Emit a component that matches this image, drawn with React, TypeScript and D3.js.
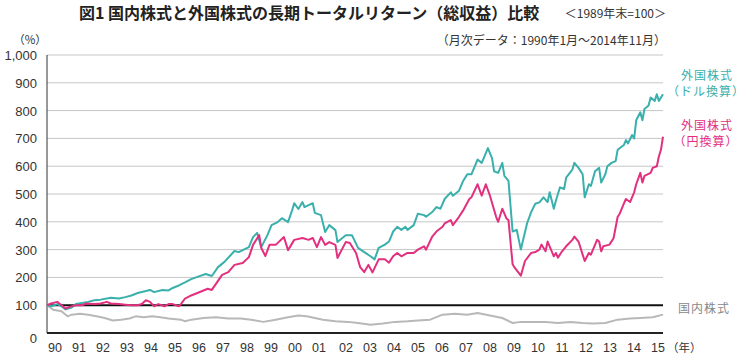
import React from "react";
import * as d3 from "d3";

// month index: 0 = end of 1989, 299 = Nov 2014
const usdForeign: [number, number][] = [
  [0,100],[2,96],[5,104],[7,96],[9,85],[12,92],[14,104],[17,108],[20,112],[23,118],[26,120],[31,127],[35,124],[38,129],[41,135],[44,144],[48,151],[50,155],[52,147],[56,155],[59,153],[61,162],[64,171],[67,182],[70,194],[73,202],[77,212],[80,205],[83,237],[86,255],[91,295],[93,291],[95,298],[98,309],[100,345],[102,360],[104,309],[107,352],[109,388],[112,399],[114,413],[117,399],[119,442],[120,467],[122,446],[124,471],[125,453],[129,467],[130,432],[133,424],[135,363],[137,388],[140,370],[141,327],[145,352],[148,352],[151,306],[154,291],[157,276],[159,265],[161,306],[164,318],[166,329],[168,365],[170,382],[172,371],[174,382],[175,371],[178,388],[180,429],[183,424],[184,418],[187,435],[189,453],[191,447],[193,482],[196,506],[197,494],[200,512],[202,547],[204,571],[206,571],[209,624],[211,612],[212,629],[214,665],[216,629],[217,582],[219,576],[221,612],[222,565],[224,547],[226,365],[228,371],[230,300],[233,394],[235,435],[237,465],[239,470],[241,488],[243,471],[244,506],[246,447],[247,476],[249,524],[251,518],[252,559],[255,588],[256,612],[258,594],[260,571],[261,488],[263,535],[264,529],[266,582],[268,594],[269,541],[271,571],[272,600],[274,612],[276,618],[277,659],[280,676],[281,694],[282,682],[284,712],[285,700],[286,765],[288,794],[289,765],[290,806],[292,818],[293,847],[295,835],[296,859],[297,835],[299,859]
];

const yenForeign: [number, number][] = [
  [0,100],[2,106],[5,112],[6,106],[9,88],[11,94],[14,100],[17,100],[19,106],[23,104],[26,106],[29,112],[31,106],[35,104],[38,102],[41,100],[44,100],[46,104],[48,118],[50,112],[52,96],[54,104],[57,96],[59,104],[61,104],[64,96],[65,104],[67,124],[70,135],[73,144],[76,153],[78,159],[80,155],[85,209],[88,219],[91,245],[95,252],[98,273],[100,317],[103,352],[104,306],[106,277],[108,317],[111,317],[115,345],[117,298],[120,335],[124,342],[127,335],[129,342],[131,309],[133,345],[135,317],[137,327],[140,317],[141,270],[145,327],[147,324],[150,288],[152,237],[154,219],[156,245],[158,218],[161,265],[164,265],[166,253],[168,276],[170,288],[172,276],[175,288],[178,288],[180,300],[183,312],[184,300],[187,347],[189,365],[192,382],[193,394],[196,406],[197,388],[200,418],[202,441],[205,482],[206,488],[209,535],[211,494],[213,535],[215,494],[218,418],[219,400],[221,447],[223,412],[224,406],[226,247],[227,235],[230,206],[232,259],[235,288],[237,291],[239,300],[240,318],[242,294],[243,329],[246,276],[247,288],[248,271],[250,294],[252,312],[255,335],[256,347],[258,329],[260,282],[261,259],[263,288],[264,282],[267,335],[268,329],[269,294],[270,312],[273,318],[275,341],[277,418],[278,429],[280,465],[281,482],[283,471],[285,506],[286,535],[288,576],[289,541],[290,565],[293,576],[294,594],[296,600],[297,635],[298,659],[299,706]
];

const domestic: [number, number][] = [
  [0,100],[3,84],[7,78],[10,60],[12,66],[16,69],[20,66],[24,60],[28,54],[32,45],[36,48],[40,52],[43,60],[47,57],[51,60],[55,57],[59,52],[65,48],[67,42],[70,48],[76,54],[82,57],[88,52],[94,52],[99,48],[105,40],[111,48],[117,57],[122,63],[126,60],[134,48],[140,42],[146,40],[151,36],[157,30],[163,34],[169,40],[175,42],[180,45],[186,48],[192,66],[198,69],[204,66],[209,72],[215,63],[221,54],[226,36],[230,40],[236,40],[242,40],[248,36],[254,40],[260,36],[265,34],[271,36],[277,48],[283,52],[288,54],[294,57],[299,66]
];

const yTicks = [0, 100, 200, 300, 400, 500, 600, 700, 800, 900, 1000];
const xLabels = ["90","91","92","93","94","95","96","97","98","99","00","01","02","03","04","05","06","07","08","09","10","11","12","13","14","15"];

const TEAL = "#3ab0ad";
const PINK = "#e2307f";
const GRAY = "#b8b8b8";
const JP = "'Noto Sans CJK JP', 'Noto Sans', sans-serif";
const NUM = "'Liberation Sans', Arial, sans-serif";

export default function App() {
  const x = d3.scaleLinear().domain([0, 299]).range([47, 663]);
  const y = d3.scaleLinear().domain([0, 1000]).range([333, 55]);
  const xl = d3.scalePoint<string>().domain(xLabels).range([55, 655]);
  const line = d3.line<[number, number]>().x(d => x(d[0])).y(d => y(d[1]));

  return (
    <svg width={745} height={356} style={{ position: "absolute", left: 0, top: 0, background: "#fff" }}>
      <text x={79} y={19} fontFamily={JP} fontSize={16} fontWeight="bold" fill="#222">図1 国内株式と外国株式の長期トータルリターン（総収益）比較</text>
      <text x={666} y={18} textAnchor="end" fontFamily={JP} fontSize={12} fill="#333">＜1989年末=100＞</text>
      <text x={666} y={45} textAnchor="end" fontFamily={JP} fontSize={12} fill="#333">（月次データ：1990年1月～2014年11月）</text>
      <text x={30} y={44} textAnchor="middle" fontFamily={JP} fontSize={11.5} fill="#333">（%）</text>

      {yTicks.filter(t => t >= 200).map(t => (
        <line key={t} x1={x(0)} x2={x(299)} y1={y(t)} y2={y(t)} stroke="#c6c6c6" strokeWidth={1} />
      ))}
      {yTicks.map(t => (
        <text key={t} x={37} y={y(t) + (t === 0 ? 10 : 5)} textAnchor="end" fontFamily={NUM} fontSize={13} fill="#333">
          {d3.format(",")(t)}
        </text>
      ))}

      <line x1={x(0)} x2={x(0)} y1={y(1000)} y2={y(0)} stroke="#333" strokeWidth={1} />
      <line x1={x(0)} x2={x(299)} y1={y(0)} y2={y(0)} stroke="#222" strokeWidth={2} />
      <line x1={x(0)} x2={x(299)} y1={y(100)} y2={y(100)} stroke="#111" strokeWidth={2} />

      <path d={line(domestic) || ""} fill="none" stroke={GRAY} strokeWidth={2} strokeLinejoin="round" />
      <path d={line(usdForeign) || ""} fill="none" stroke={TEAL} strokeWidth={2} strokeLinejoin="round" />
      <path d={line(yenForeign) || ""} fill="none" stroke={PINK} strokeWidth={2} strokeLinejoin="round" />

      {xLabels.map(l => (
        <text key={l} x={(xl(l) as number) + (l >= "02" && l < "90" ? 3 : 0)} y={352} textAnchor="middle" fontFamily={NUM} fontSize={12.5} fill="#333">{l}</text>
      ))}
      <text x={667} y={352} fontFamily={JP} fontSize={11.5} fill="#333">（年）</text>

      <text x={707} y={80} textAnchor="middle" fontFamily={JP} fontSize={12} fill={TEAL} letterSpacing={1}>外国株式</text>
      <text x={706} y={96} textAnchor="middle" fontFamily={JP} fontSize={12} fill={TEAL} letterSpacing={1}>（ドル換算）</text>
      <text x={707} y={130} textAnchor="middle" fontFamily={JP} fontSize={12} fill={PINK} letterSpacing={1}>外国株式</text>
      <text x={706} y={146} textAnchor="middle" fontFamily={JP} fontSize={12} fill={PINK} letterSpacing={1}>（円換算）</text>
      <text x={704} y={313} textAnchor="middle" fontFamily={JP} fontSize={12} fill="#888" letterSpacing={1}>国内株式</text>
    </svg>
  );
}
